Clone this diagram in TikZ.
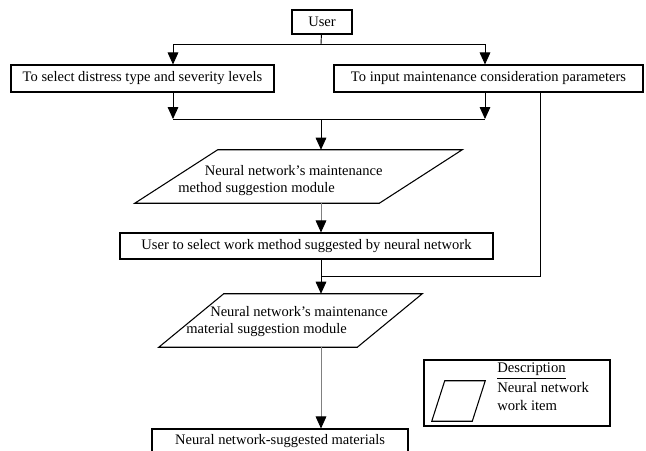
\documentclass[tikz,border=0pt]{standalone}
\usepackage{fontspec}
\setmainfont{Liberation Serif}
\usetikzlibrary{arrows.meta, shapes.geometric, positioning, calc}

\tikzset{
  box/.style={draw, line width=0.8pt, inner sep=0pt, font=\fontsize{10.9}{12.8}\selectfont},
  frame/.style={draw=none, inner sep=0pt},
  slant/.style={line width=0.8pt},
  txt/.style={inner sep=0pt, font=\fontsize{10.9}{12.8}\selectfont, align=left},
  flow/.style={line width=0.7pt},
  flowgray/.style={line width=0.7pt, gray, -{Triangle[width=8pt,length=9pt,color=black]}},
}

\begin{document}
\begin{tikzpicture}[x=0.75pt, y=-0.75pt, >={Triangle[width=8pt,length=9pt]}]
  \useasboundingbox (0,0) rectangle (646,450);

  % boxes
  \node[box, minimum width=45pt, minimum height=18pt] (user) at (322,22) {User};
  \node[box, minimum width=197.25pt, minimum height=20.25pt] (distress) at (142.5,78.5) {To select distress type and severity levels};
  \node[box, minimum width=231.75pt, minimum height=20.25pt] (params) at (488.5,78.5) {To input maintenance consideration parameters};
  \node[box, minimum width=279.75pt, minimum height=19.5pt] (selmethod) at (306.5,246) {User to select work method suggested by neural network};
  \node[box, minimum width=192pt, minimum height=18pt] (materials) at (280,441) {Neural network-suggested materials};

  % neural network work items
  \node[frame, minimum width=245.25pt, minimum height=39.75pt] (nnmethod) at (298.5,176.5) {};
  \draw[slant] ($(nnmethod.north west)+(83,0)$) -- (nnmethod.north east)
    -- ($(nnmethod.south east)+(-83,0)$) -- (nnmethod.south west) -- cycle;
  \node[txt, anchor=north west] (nnmethodtxt) at (178,165) {\hspace*{20pt}Neural network's maintenance\\method suggestion module};

  \node[frame, minimum width=197.25pt, minimum height=39.75pt] (nnmaterial) at (290.5,320.5) {};
  \draw[slant] ($(nnmaterial.north west)+(65,0)$) -- (nnmaterial.north east)
    -- ($(nnmaterial.south east)+(-65,0)$) -- (nnmaterial.south west) -- cycle;
  \node[txt, anchor=north west] (nnmaterialtxt) at (186,306) {\hspace*{18pt}Neural network's maintenance\\material suggestion module};

  % legend
  \node[box, minimum width=139.5pt, minimum height=49.5pt] (legend) at (517,393) {};
  \node[frame, minimum width=39.75pt, minimum height=30pt] (legenditem) at (458.5,401) {};
  \draw[slant] ($(legenditem.north west)+(13,0)$) -- (legenditem.north east)
    -- ($(legenditem.south east)+(-13,0)$) -- (legenditem.south west) -- cycle;
  \node[txt, anchor=north west, font=\fontsize{11}{13.5}\selectfont] (legendtxt) at (497,363)
    {\underline{Description}\\[1.5pt] Neural network\\ work item};

  % connectors
  \coordinate (topbus) at (321,44);
  \coordinate (midbus) at (321,119);
  \coordinate (joinbus) at (321,276);
  \draw[flow] (user) -- (topbus);
  \draw[flow,->] (topbus) -| (173,0 |- distress.north);
  \draw[flow,->] (topbus) -| (485,0 |- params.north);
  \draw[flow,->] (173,0 |- distress.south) -- (173,0 |- midbus);
  \draw[flow,->] (485,0 |- params.south) -- (485,0 |- midbus);
  \draw[flow] (173,0 |- midbus) -- (485,0 |- midbus);
  \draw[flow,->] (midbus) -- (midbus |- nnmethod.north);
  \draw[flowgray] (midbus |- nnmethod.south) -- (midbus |- selmethod.north);
  \draw[flow,->] (midbus |- selmethod.south) -- (midbus |- nnmaterial.north);
  \draw[flow] (540,0 |- params.south) |- (joinbus);
  \draw[flowgray] (midbus |- nnmaterial.south) -- (midbus |- materials.north);
\end{tikzpicture}
\end{document}
